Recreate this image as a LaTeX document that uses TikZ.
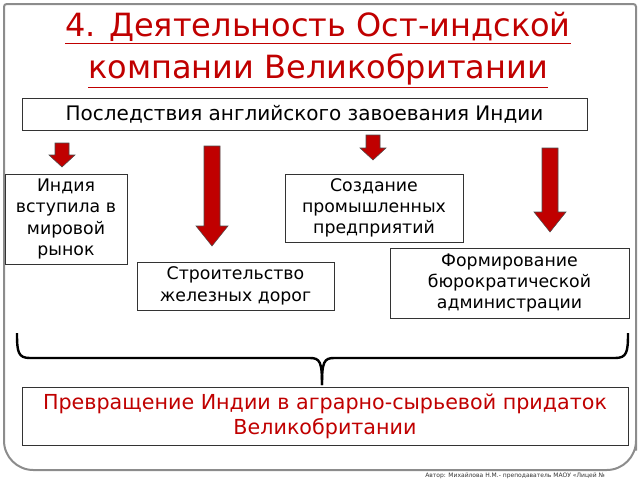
\documentclass[tikz,border=0pt]{standalone}
\usepackage{fontspec}
\setmainfont{DejaVu Sans}
\usetikzlibrary{calc}
\definecolor{titlered}{RGB}{192,0,0}
\definecolor{arrowred}{RGB}{192,0,0}
\tikzset{
    block/.style = {draw=black!80, fill=white, rectangle, thin, align=center,
        inner sep=0pt, font=\fontsize{13}{16}\selectfont},
    downarrow/.style = {draw=black!70, fill=arrowred, line join=miter},
    brace/.style = {line width=1.8pt, black}
}
% #1 x, #2 top, #3 bottom, #4 shaft half width, #5 head half width, #6 head length
\newcommand{\redarrow}[6]{%
    \draw[downarrow] (#1-#4,#2) -- (#1+#4,#2) -- (#1+#4,#3-#6) -- (#1+#5,#3-#6)
        -- (#1,#3) -- (#1-#5,#3-#6) -- (#1-#4,#3-#6) -- cycle;}
\begin{document}
\begin{tikzpicture}[x=0.75pt,y=-0.75pt]
    \useasboundingbox (0,0) rectangle (640,480);
    % frame
    \draw[black!45, line width=1.5pt, rounded corners=2pt] (4,4) -- (636,4) -- (636,448) [rounded corners=22pt] -- (636,470) -- (4,470) [rounded corners=2pt] -- cycle;
    % title
    \node[text=titlered, font=\fontsize{24}{32}\selectfont, align=center] (title) at (318,50)
        {\underline{4. Деятельность Ост-индской}\\\underline{компании Великобритании}};
    \node[block, minimum width=565*0.75pt, minimum height=32*0.75pt,
        font=\fontsize{15}{18}\selectfont] (cons) at (304.5,114)
        {Последствия английского завоевания Индии};
    % arrows
    \redarrow{62}{143}{167}{7}{13}{12}
    \redarrow{212}{146}{246}{8}{16}{20}
    \redarrow{373}{135}{160}{7}{13}{12}
    \redarrow{550}{148}{232}{8}{16}{20}
    % consequences
    \node[block, minimum width=122*0.75pt, minimum height=90*0.75pt] (market) at (66,219)
        {Индия\\вступила в\\мировой\\рынок};
    \node[block, minimum width=178*0.75pt, minimum height=68*0.75pt] (industry) at (374,208)
        {Создание\\промышленных\\предприятий};
    \node[block, minimum width=197*0.75pt, minimum height=48*0.75pt] (rail) at (235.5,286)
        {Строительство\\железных дорог};
    \node[block, minimum width=239*0.75pt, minimum height=70*0.75pt] (admin) at (509.5,283)
        {Формирование\\бюрократической\\администрации};
    % brace
    \coordinate (bl) at (17,333);
    \coordinate (br) at (628,333);
    \coordinate (tip) at (322,385);
    \draw[brace] (bl) .. controls (17,352) and (18,358) .. (30,358) -- (310,358)
        .. controls (320,358) and (322,362) .. (tip);
    \draw[brace] (br) .. controls (628,352) and (627,358) .. (615,358) -- (334,358)
        .. controls (324,358) and (322,362) .. (tip);
    \node[block, minimum width=606*0.75pt, minimum height=58*0.75pt, text=titlered,
        font=\fontsize{15.5}{18.5}\selectfont] (result) at (325,416)
        {Превращение Индии в аграрно-сырьевой придаток\\Великобритании};
    \node[anchor=west, font=\fontsize{4.5}{5}\selectfont, text=black!80, inner sep=0pt] (author) at (425,476)
        {Автор: Михайлова Н.М.- преподаватель МАОУ «Лицей №};
\end{tikzpicture}
\end{document}
